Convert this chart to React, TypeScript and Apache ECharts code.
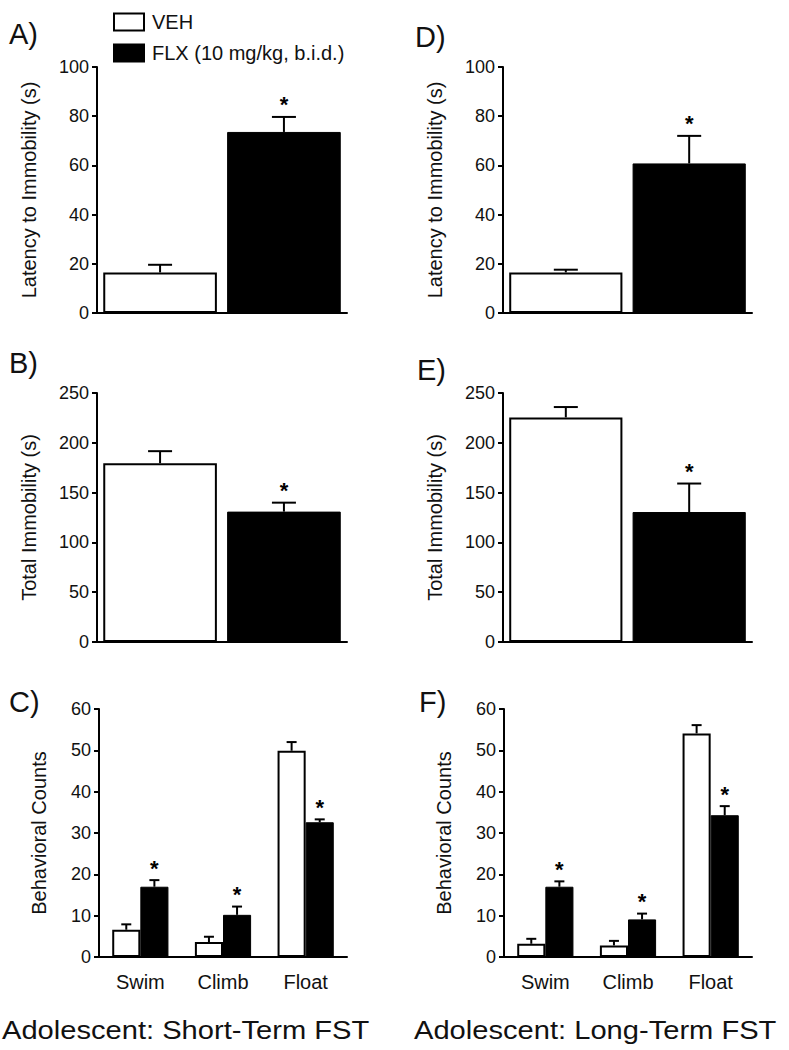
import React, { useEffect, useRef } from "react";
import * as echarts from "echarts";

const FONT = '"Liberation Sans", Arial, Helvetica, sans-serif';
const INK = "#111";

// ---- data ----
const seriesNames = ["VEH", "FLX (10 mg/kg, b.i.d.)"];
const behaviorCategories = ["Swim", "Climb", "Float"];

// Short-term FST (A, B, C)
const latencyShortVeh = [16.5];
const latencyShortVehErr = [3.1];
const latencyShortFlx = [73.6];
const latencyShortFlxErr = [6.1];

const totalShortVeh = [179.5];
const totalShortVehErr = [12.1];
const totalShortFlx = [130.9];
const totalShortFlxErr = [9.0];

const countsShortVeh = [6.6, 3.6, 49.9];
const countsShortVehErr = [1.3, 1.3, 2.1];
const countsShortFlx = [17.0, 10.2, 32.6];
const countsShortFlxErr = [1.6, 2.0, 0.7];

// Long-term FST (D, E, F)
const latencyLongVeh = [16.5];
const latencyLongVehErr = [1.1];
const latencyLongFlx = [60.8];
const latencyLongFlxErr = [11.2];

const totalLongVeh = [225.5];
const totalLongVehErr = [10.4];
const totalLongFlx = [130.5];
const totalLongFlxErr = [28.6];

const countsLongVeh = [3.2, 2.8, 54.1];
const countsLongVehErr = [1.2, 1.1, 2.0];
const countsLongFlx = [17.0, 9.1, 34.3];
const countsLongFlxErr = [1.3, 1.4, 2.2];

// significance markers (FLX vs VEH)
const sigSingle = [1];
const sigCounts = [1, 1, 1];

const panelLetters = ["A)", "B)", "C)", "D)", "E)", "F)"];
const groupTitles = ["Adolescent: Short-Term FST", "Adolescent: Long-Term FST"];

type Panel = {
  grid: { left: number; top: number; width: number; height: number };
  yMax: number;
  yInterval: number;
  yName: string;
  nameGap: number;
  cats: string[];
  veh: number[];
  vehErr: number[];
  flx: number[];
  flxErr: number[];
  sig: number[];
  grouped: boolean;
};

const panels: Panel[] = [
  {
    grid: { left: 97, top: 67, width: 250, height: 246 },
    yMax: 100, yInterval: 20, yName: "Latency to Immobility (s)", nameGap: 58,
    cats: [""], veh: latencyShortVeh, vehErr: latencyShortVehErr,
    flx: latencyShortFlx, flxErr: latencyShortFlxErr, sig: sigSingle, grouped: false,
  },
  {
    grid: { left: 97, top: 393, width: 250, height: 249 },
    yMax: 250, yInterval: 50, yName: "Total Immobility (s)", nameGap: 58,
    cats: [""], veh: totalShortVeh, vehErr: totalShortVehErr,
    flx: totalShortFlx, flxErr: totalShortFlxErr, sig: sigSingle, grouped: false,
  },
  {
    grid: { left: 99, top: 709, width: 248, height: 248 },
    yMax: 60, yInterval: 10, yName: "Behavioral Counts", nameGap: 50,
    cats: behaviorCategories, veh: countsShortVeh, vehErr: countsShortVehErr,
    flx: countsShortFlx, flxErr: countsShortFlxErr, sig: sigCounts, grouped: true,
  },
  {
    grid: { left: 503, top: 67, width: 249, height: 246 },
    yMax: 100, yInterval: 20, yName: "Latency to Immobility (s)", nameGap: 58,
    cats: [""], veh: latencyLongVeh, vehErr: latencyLongVehErr,
    flx: latencyLongFlx, flxErr: latencyLongFlxErr, sig: sigSingle, grouped: false,
  },
  {
    grid: { left: 503, top: 393, width: 249, height: 249 },
    yMax: 250, yInterval: 50, yName: "Total Immobility (s)", nameGap: 58,
    cats: [""], veh: totalLongVeh, vehErr: totalLongVehErr,
    flx: totalLongFlx, flxErr: totalLongFlxErr, sig: sigSingle, grouped: false,
  },
  {
    grid: { left: 504, top: 709, width: 248, height: 248 },
    yMax: 60, yInterval: 10, yName: "Behavioral Counts", nameGap: 50,
    cats: behaviorCategories, veh: countsLongVeh, vehErr: countsLongVehErr,
    flx: countsLongFlx, flxErr: countsLongFlxErr, sig: sigCounts, grouped: true,
  },
];

const letterPos = [
  [9, 34], [9, 363], [9, 702], [415, 37], [417, 370], [419, 702],
];

function buildOption() {
  const grid: any[] = [];
  const xAxis: any[] = [];
  const yAxis: any[] = [];
  const series: any[] = [];

  panels.forEach((p, i) => {
    const barGap = p.grouped ? 0 : 0.09;
    const catGap = p.grouped ? 0.32 : 0.05;
    const capHalf = p.grouped ? 5 : 12;
    grid.push({ ...p.grid, containLabel: false });
    xAxis.push({
      type: "category",
      gridIndex: i,
      data: p.cats,
      axisLine: { show: true, lineStyle: { color: "#000", width: 2 } },
      axisTick: { show: false },
      axisLabel: {
        show: p.grouped,
        fontSize: 20,
        color: INK,
        fontFamily: FONT,
        margin: 15,
      },
    });
    yAxis.push({
      type: "value",
      gridIndex: i,
      min: 0,
      max: p.yMax,
      interval: p.yInterval,
      name: p.yName,
      nameLocation: "middle",
      nameGap: p.nameGap,
      nameTextStyle: { fontSize: 20, color: INK, fontFamily: FONT },
      axisLine: { show: true, lineStyle: { color: "#000", width: 2 } },
      axisTick: { show: true, length: 5, lineStyle: { color: "#000", width: 2 } },
      axisLabel: { fontSize: 18, color: INK, fontFamily: FONT, margin: 8 },
      splitLine: { show: false },
    });
    const barCommon = {
      type: "bar",
      xAxisIndex: i,
      yAxisIndex: i,
      barGap: barGap * 100 + "%",
      barCategoryGap: catGap * 100 + "%",
    };
    series.push({
      ...barCommon,
      name: seriesNames[0],
      data: p.veh,
      itemStyle: { color: "#fff", borderColor: "#000", borderWidth: 2 },
    });
    series.push({
      ...barCommon,
      name: seriesNames[1],
      data: p.flx,
      itemStyle: { color: "#000", borderColor: "#000", borderWidth: 1 },
    });
    [0, 1].forEach((side) => {
      const vals = side === 0 ? p.veh : p.flx;
      const errs = side === 0 ? p.vehErr : p.flxErr;
      const data = vals.map((v, k) => [k, v, errs[k], side === 1 ? p.sig[k] : 0]);
      series.push({
        type: "custom",
        name: "err" + i + "_" + side,
        xAxisIndex: i,
        yAxisIndex: i,
        z: 5,
        data,
        renderItem: (params: any, api: any) => {
          const ci = api.value(0);
          const v = api.value(1);
          const e = api.value(2);
          const s = api.value(3);
          const base = api.coord([ci, v]);
          const top = api.coord([ci, v + e]);
          const band = api.size([1, 0])[0];
          const bw = (band * (1 - catGap)) / (2 + barGap);
          const off = ((bw * (1 + barGap)) / 2) * (side === 0 ? -1 : 1);
          const x = base[0] + off;
          const children: any[] = [
            {
              type: "line",
              shape: { x1: x, y1: base[1], x2: x, y2: top[1] },
              style: { stroke: "#000", lineWidth: 2 },
            },
            {
              type: "line",
              shape: { x1: x - capHalf, y1: top[1], x2: x + capHalf, y2: top[1] },
              style: { stroke: "#000", lineWidth: 2 },
            },
          ];
          if (s) {
            children.push({
              type: "text",
              style: {
                text: "*",
                x: x,
                y: top[1] - 12,
                align: "center",
                verticalAlign: "middle",
                fontSize: 22,
                fontWeight: "bold",
                fontFamily: FONT,
                fill: "#000",
              },
            });
          }
          return { type: "group", children };
        },
      });
    });
  });

  const graphic: any[] = [];
  panelLetters.forEach((t, i) => {
    graphic.push({
      type: "text",
      x: letterPos[i][0],
      y: letterPos[i][1],
      style: {
        text: t,
        fontSize: 29,
        fontFamily: FONT,
        fill: INK,
        align: "left",
        verticalAlign: "middle",
      },
    });
  });
  graphic.push({
    type: "text",
    x: 2,
    y: 1030,
    scaleX: 1.12,
    style: {
      text: groupTitles[0],
      fontSize: 26,
      fontFamily: FONT,
      fill: INK,
      align: "left",
      verticalAlign: "middle",
    },
  });
  graphic.push({
    type: "text",
    x: 414,
    y: 1030,
    scaleX: 1.12,
    style: {
      text: groupTitles[1],
      fontSize: 26,
      fontFamily: FONT,
      fill: INK,
      align: "left",
      verticalAlign: "middle",
    },
  });

  return {
    animation: false,
    backgroundColor: "#fff",
    textStyle: { fontFamily: FONT },
    legend: {
      orient: "vertical",
      left: 108,
      top: 7,
      itemWidth: 30,
      itemHeight: 17,
      itemGap: 11,
      icon: "rect",
      selectedMode: false,
      data: seriesNames,
      textStyle: { fontSize: 20, color: INK, fontFamily: FONT, padding: [0, 0, 0, 3] },
    },
    grid,
    xAxis,
    yAxis,
    series,
    graphic,
  };
}

export default function App() {
  const ref = useRef<HTMLDivElement>(null);
  useEffect(() => {
    if (!ref.current) return;
    const chart = echarts.init(ref.current, undefined, { renderer: "svg" });
    chart.setOption(buildOption() as any);
    return () => chart.dispose();
  }, []);
  return (
    <div
      ref={ref}
      style={{ position: "absolute", left: 0, top: 0, width: 789, height: 1050 }}
    />
  );
}
